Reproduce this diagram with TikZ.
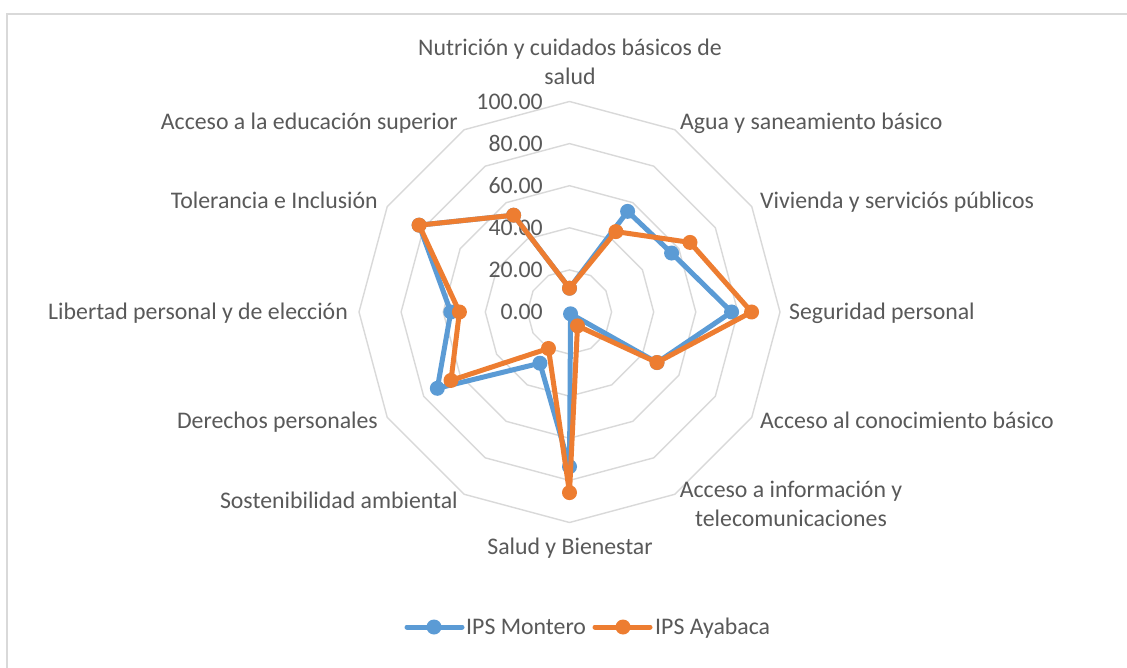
\documentclass[tikz,border=0pt]{standalone}
\usepackage{fontspec}
\setmainfont{Carlito}
\usetikzlibrary{calc}
\definecolor{gridgray}{HTML}{D9D9D9}
\definecolor{txtgray}{HTML}{595959}
\definecolor{serblue}{HTML}{5B9BD5}
\definecolor{serorange}{HTML}{ED7D31}
\begin{document}
\begin{tikzpicture}[x=1pt,y=-1pt,
  lbl/.style={text=txtgray, font=\fontsize{23.8}{29}\selectfont, inner sep=0pt, text height=15.3pt, text depth=0pt},
  mlbl/.style={text=txtgray, font=\fontsize{23.8}{29}\selectfont, inner sep=0pt, align=center},
  ring/.style={draw=gridgray, line width=1.4pt},
  frameline/.style={draw=gridgray, line width=2pt},
  seriesM/.style={draw=serblue, line width=5pt, line join=round, line cap=round},
  seriesA/.style={draw=serorange, line width=5pt, line join=round, line cap=round},
  dotM/.style={circle, fill=serblue, inner sep=0pt, minimum size=15pt},
  dotA/.style={circle, fill=serorange, inner sep=0pt, minimum size=15pt}]
\useasboundingbox (0,0) rectangle (1127,668);
\fill[white] (0,0) rectangle (1127,668);
\draw[frameline] (7,668) -- (7,14) -- (1127,14);
\coordinate (C) at (569.5,312);
% rings
\foreach \k in {1,...,5} {
  \draw[ring] ($(C)+(90:{\k*42.1pt})$)
    \foreach \i in {1,...,11} { -- ($(C)+({90-30*\i}:{\k*42.1pt})$) } -- cycle;
}
% value labels
\foreach \k/\t in {0/0.00,1/20.00,2/40.00,3/60.00,4/80.00,5/100.00}
  \node[lbl, anchor=east] (tick\k) at (543,{312-42.1*\k}) {\t};
% category labels
\node[mlbl] (cat0) at (570,62) {Nutrición y cuidados básicos de\\salud};
\node[lbl, anchor=west] (cat1) at (680,122) {Agua y saneamiento básico};
\node[lbl, anchor=west] (cat2) at (760,201) {Vivienda y serviciós públicos};
\node[lbl, anchor=west] (cat3) at (789,312) {Seguridad personal};
\node[lbl, anchor=west] (cat4) at (760,421) {Acceso al conocimiento básico};
\node[mlbl] (cat5) at (791,504) {Acceso a información y\\telecomunicaciones};
\node[lbl] (cat6) at (570,547) {Salud y Bienestar};
\node[lbl, anchor=east] (cat7) at (458,501) {Sostenibilidad ambiental};
\node[lbl, anchor=east] (cat8) at (378,421) {Derechos personales};
\node[lbl, anchor=east] (cat9) at (348,312) {Libertad personal y de elección};
\node[lbl, anchor=east] (cat10) at (378,201) {Tolerancia e Inclusión};
\node[lbl, anchor=east] (cat11) at (458,122) {Acceso a la educación superior};
% data points
\foreach \v [count=\i from 0] in {11.3,55.2,56,77,48,1,73.5,28.1,72.5,56.4,82.5,53.1}
  \coordinate (m\i) at ($(C)+({90-30*\i}:{\v*2.105pt})$);
\foreach \v [count=\i from 0] in {11.3,44.1,66.1,86.5,48,7.6,85.8,20,65,52.3,82.5,53.1}
  \coordinate (a\i) at ($(C)+({90-30*\i}:{\v*2.105pt})$);
% Montero series
\draw[seriesM] (m0) -- (m1) -- (m2) -- (m3) -- (m4) -- (m5) -- (m6) -- (m7) -- (m8) -- (m9) -- (m10) -- (m11) -- cycle;
\foreach \i in {0,...,11} \node[dotM] (mk\i) at (m\i) {};
% Ayabaca series
\draw[seriesA] (a0) -- (a1) -- (a2) -- (a3) -- (a4) -- (a5) -- (a6) -- (a7) -- (a8) -- (a9) -- (a10) -- (a11) -- cycle;
\foreach \i in {0,...,11} \node[dotA] (ak\i) at (a\i) {};
% legend
\coordinate (lm1) at (407,627);
\coordinate (lm2) at (462,627);
\coordinate (la1) at (595,627);
\coordinate (la2) at (650,627);
\draw[seriesM] (lm1) -- (lm2);
\node[dotM] (lmk) at (434,627) {};
\node[lbl, anchor=west] (legM) at (466,627) {IPS Montero};
\draw[seriesA] (la1) -- (la2);
\node[dotA] (lak) at (623,627) {};
\node[lbl, anchor=west] (legA) at (655,627) {IPS Ayabaca};
\end{tikzpicture}
\end{document}
